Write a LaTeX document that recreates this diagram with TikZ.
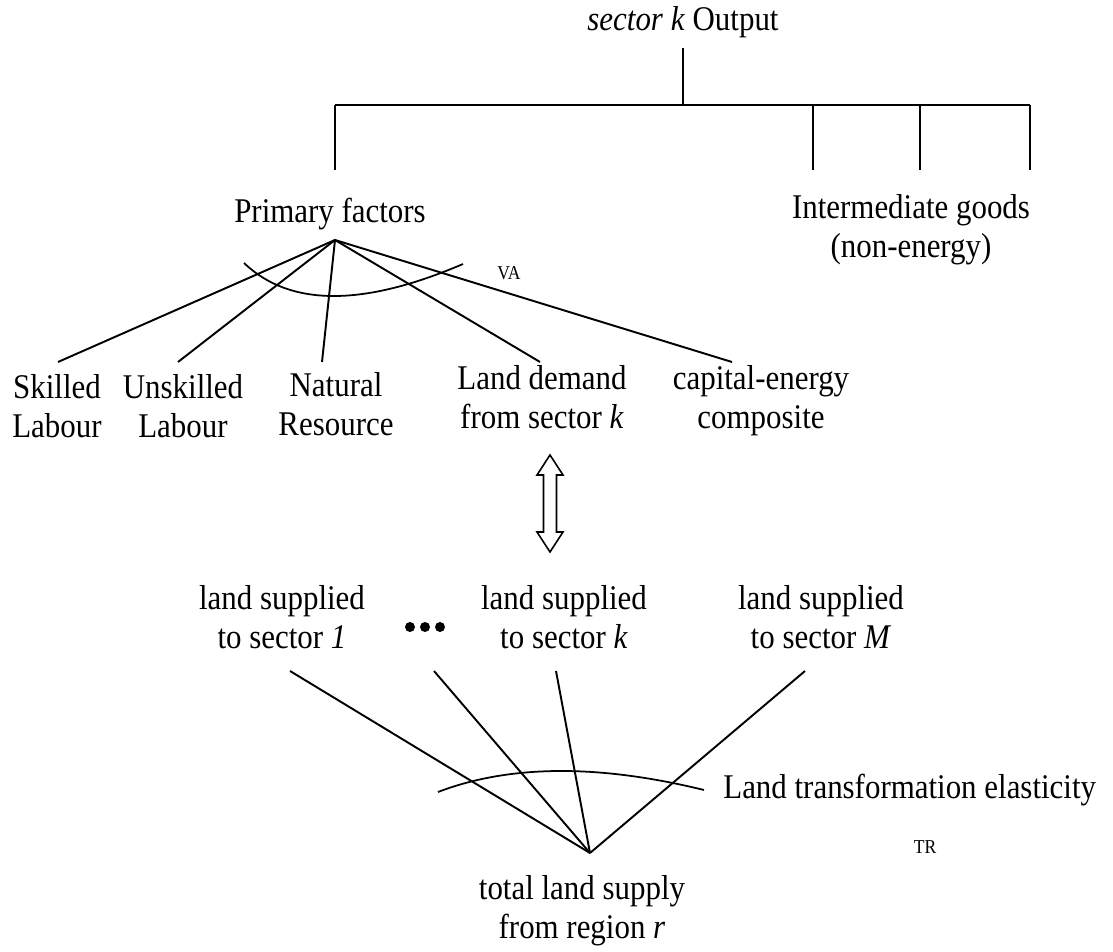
\documentclass[tikz,border=0pt]{standalone}
\usepackage{fontspec}
\setmainfont{Liberation Serif}
\tikzstyle{lbl}=[align=center,inner sep=0pt,yscale=1.12,transform shape,font=\fontsize{17.6}{19.7}\selectfont]
\tikzstyle{tiny}=[inner sep=0pt,yscale=1.12,transform shape,font=\fontsize{10}{12}\selectfont]
\tikzstyle{branch}=[line width=1.1pt]
\tikzstyle{bar}=[line width=1.7pt]
\tikzstyle{elast}=[line width=1pt]
\tikzstyle{dot}=[shape=circle,minimum size=10*0.02cm,inner sep=0,fill=black]

\begin{document}
\begin{tikzpicture}[x=0.02cm,y=-0.02cm]
\useasboundingbox (0,0) rectangle (1113,952);

\node[lbl] (out) at (683,22) {\textit{sector k} Output};
\node[lbl] (pf) at (330,214) {Primary factors};
\node[lbl] (ig) at (911,230) {Intermediate goods\\(non-energy)};
\node[lbl] (sl) at (57,406) {Skilled\\Labour};
\node[lbl] (ul) at (183,406) {Unskilled\\Labour};
\node[lbl] (nr) at (336,404) {Natural\\Resource};
\node[lbl] (ld) at (542,397) {Land demand\\from sector \textit{k}};
\node[lbl] (ce) at (761,401) {capital-energy\\composite};
\node[tiny] (valbl) at (509,273) {VA};

\coordinate (outfoot) at (683,48);
\coordinate (hub) at (683,105);
\coordinate (barL) at (335,105);
\coordinate (barR) at (1030,105);
\draw[branch] (outfoot) -- (hub);
\draw[bar] (barL) -- (barR);
\foreach \n/\x in {pf/335,ia/813,ib/920,ic/1030}{
	\coordinate (\n up) at (\x,105);
	\coordinate (\n dn) at (\x,170);
	\draw[branch] (\n up) -- (\n dn);
}

\coordinate (va) at (335,240);
\foreach \n/\x in {sl/58,ul/178,nr/322,ld/540,ce/732}{
	\coordinate (\n top) at (\x,362);
	\draw[branch] (va) -- (\n top);
}
\draw[elast] (244,263) .. controls (289.7,306.7) and (362.7,307) .. (463,264);

\coordinate (dbl) at (550,503.5);
\draw[line width=0.9pt,fill=white,shift={(dbl)}] (0,-48.5) -- (13,-28.5) -- (6.5,-28.5) -- (6.5,28.5) -- (13,28.5) -- (0,48.5) -- (-13,28.5) -- (-6.5,28.5) -- (-6.5,-28.5) -- (-13,-28.5) -- cycle;

\node[lbl] (s1) at (282,617) {land supplied\\to sector \textit{1}};
\node[lbl] (sk) at (564,617) {land supplied\\to sector \textit{k}};
\node[lbl] (sM) at (821,617) {land supplied\\to sector \textit{M}};
\foreach \i/\x in {1/410,2/425,3/440}
	\node[dot] (d\i) at (\x,627) {};
\node[lbl] (tot) at (582,911) {total land supply\\from region \textit{r}};
\node[lbl,anchor=west] (elab) at (723,790) {Land transformation elasticity};
\node[tiny] (trlbl) at (925,847) {TR};

\coordinate (tr) at (590,853);
\foreach \n/\x in {a/290,b/434,c/556,d/805}{
	\coordinate (\n foot) at (\x,671);
	\draw[branch] (tr) -- (\n foot);
}
\draw[elast] (438,792) .. controls (509.3,764.7) and (598,764) .. (704,790);
\end{tikzpicture}
\end{document}
